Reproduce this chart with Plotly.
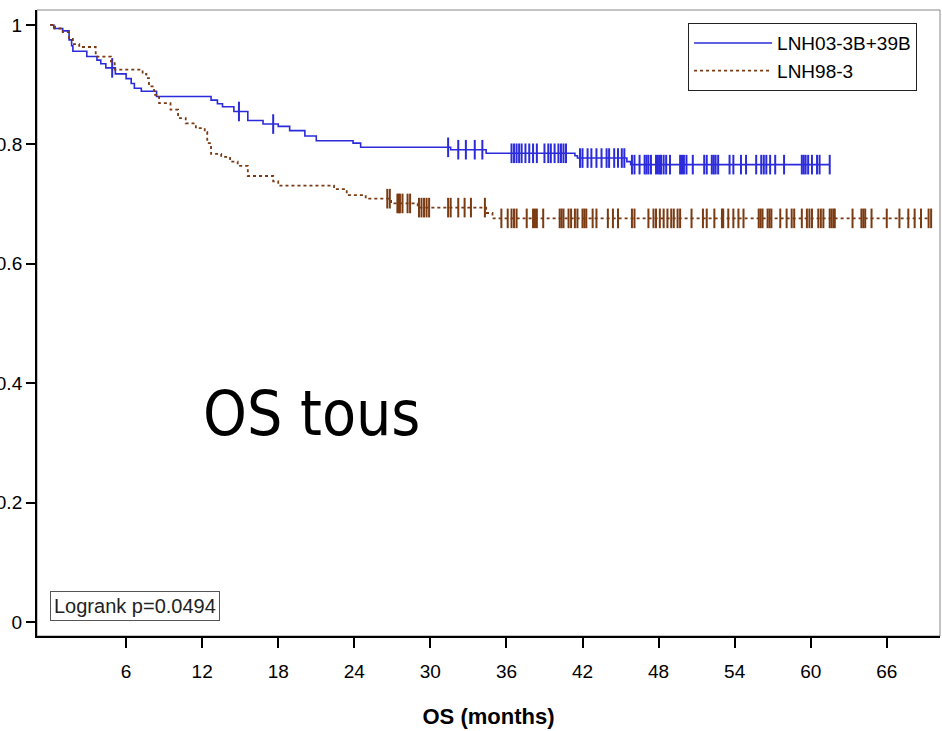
import numpy as np
import plotly.graph_objects as go

# ---------------- data ----------------
blue_name = "LNH03-3B+39B"
brown_name = "LNH98-3"

blue_t = [0, 0.3, 1.0, 1.5, 1.7, 1.8, 2.9, 3.7, 4.0, 4.4, 5.15, 6.0, 6.4, 6.65, 7.2, 8.4,
          12.7, 13.2, 13.6, 14.5, 15.6, 16.8, 18.0, 18.9, 20.1, 21.0, 23.9, 24.5, 31.6,
          34.4, 41.4, 41.6, 45.5, 45.8]
blue_s = [1.0, 0.994, 0.990, 0.975, 0.965, 0.956, 0.947, 0.941, 0.935, 0.928, 0.918, 0.910,
          0.902, 0.894, 0.889, 0.880, 0.874, 0.868, 0.863, 0.855, 0.840, 0.834, 0.830, 0.823,
          0.814, 0.806, 0.802, 0.795, 0.791, 0.785, 0.781, 0.777, 0.771, 0.766]
blue_cens = [4.9, 14.9, 17.6, 31.4, 32.2, 32.8, 33.5, 34.1, 36.4, 36.6, 36.8, 37.0, 37.2,
             37.5, 37.8, 38.1, 38.4, 39.0, 39.3, 39.5, 39.8, 40.1, 40.3, 40.5, 40.7, 41.8,
             42.0, 42.4, 42.7, 43.1, 43.5, 43.9, 44.1, 44.5, 44.8, 45.1, 45.3, 45.9, 46.1,
             46.5, 46.9, 47.05, 47.2, 47.4, 47.8, 47.95, 48.1, 48.2, 48.4, 48.6, 48.9, 49.7,
             49.85, 50.0, 50.2, 50.7, 51.6, 51.8, 52.2, 52.35, 52.5, 52.7, 53.6, 53.9, 54.5,
             54.9, 55.7, 56.1, 56.3, 56.5, 56.8, 57.2, 57.9, 59.3, 59.45, 59.6, 59.8, 60.1,
             60.5, 60.7, 61.5]

brown_t = [0, 0.4, 1.0, 1.5, 1.8, 2.3, 3.6, 4.8, 5.1, 7.3, 7.6, 7.8, 8.2, 8.6, 9.5, 10.1,
           10.7, 11.5, 12.2, 12.4, 12.7, 13.5, 14.2, 14.8, 15.6, 17.6, 18.0, 22.4, 23.4,
           24.9, 26.9, 29.0, 34.4, 34.9]
brown_s = [1.0, 0.994, 0.988, 0.978, 0.968, 0.963, 0.947, 0.939, 0.925, 0.918, 0.911, 0.897,
           0.883, 0.869, 0.858, 0.844, 0.835, 0.827, 0.821, 0.802, 0.784, 0.779, 0.771, 0.764,
           0.747, 0.738, 0.731, 0.725, 0.715, 0.709, 0.701, 0.694, 0.685, 0.676]
brown_cens = [26.6, 26.8, 27.4, 27.5, 27.6, 27.8, 28.2, 28.4, 29.1, 29.3, 29.5, 29.7, 29.9,
              31.4, 31.6, 32.2, 32.7, 33.2, 34.3, 35.6, 36.1, 36.4, 36.6, 36.8, 37.6, 38.1,
              38.25, 38.4, 38.9, 40.2, 40.35, 40.5, 40.9, 41.1, 41.4, 41.6, 42.0, 42.15, 42.3,
              42.8, 43.1, 44.0, 44.4, 44.8, 45.9, 46.1, 47.2, 47.6, 47.8, 48.1, 48.4, 48.7,
              49.0, 49.2, 49.5, 49.7, 50.6, 51.5, 51.8, 52.4, 53.0, 53.1, 53.5, 53.9, 54.3,
              54.7, 55.9, 56.05, 56.2, 56.6, 56.75, 56.9, 57.6, 58.1, 58.5, 58.7, 59.3, 59.7,
              59.9, 60.1, 60.6, 60.8, 61.0, 61.5, 61.65, 61.8, 61.9, 63.3, 64.0, 64.15, 64.3,
              64.8, 66.0, 67.0, 67.7, 68.2, 68.7, 69.3, 69.5]

x_ticks = [6, 12, 18, 24, 30, 36, 42, 48, 54, 60, 66]
y_ticks = [0, 0.2, 0.4, 0.6, 0.8, 1]
y_tick_text = ["0", "0.2", "0.4", "0.6", "0.8", "1"]
x_title = "OS (months)"
overlay_text = "OS tous"
logrank_text = "Logrank p=0.0494"

BLUE = "#2b2bdb"
BROWN = "#7a3a12"
SANS = "Liberation Sans, Arial, sans-serif"


def step_xy(t, s, cens):
    end = max(max(t), max(cens))
    return list(t) + [end], list(s) + [s[-1]]


def cens_y(t, s, cens):
    idx = np.searchsorted(np.array(t), np.array(cens), side="right") - 1
    return [s[i] for i in idx]


fig = go.Figure()

for name, t, s, cens, color, dash, w in [
    (blue_name, blue_t, blue_s, blue_cens, BLUE, "solid", 1.6),
    (brown_name, brown_t, brown_s, brown_cens, BROWN, "3px,3px", 1.8),
]:
    xs, ys = step_xy(t, s, cens)
    fig.add_trace(go.Scatter(x=xs, y=ys, mode="lines", name=name, line_shape="hv",
                             line=dict(color=color, width=w, dash=dash)))
    fig.add_trace(go.Scatter(x=cens, y=cens_y(t, s, cens), mode="markers", showlegend=False,
                             hoverinfo="skip",
                             marker=dict(symbol="line-ns", size=14,
                                         line=dict(color=color, width=2))))

fig.update_layout(
    width=942, height=731,
    margin=dict(l=37, r=2, t=10, b=95),
    paper_bgcolor="white", plot_bgcolor="white",
    font=dict(family=SANS, size=19, color="black"),
    showlegend=True,
    legend=dict(x=0.721, y=0.979, xanchor="left", yanchor="top",
                bgcolor="white", bordercolor="#222", borderwidth=1,
                font=dict(family=SANS, size=19, color="black"),
                itemwidth=78, tracegroupgap=0),
    shapes=[dict(type="rect", xref="paper", yref="paper", x0=0, y0=0, x1=1, y1=1,
                 line=dict(color="#888", width=1), layer="below")],
    annotations=[
        dict(text=overlay_text, xref="x", yref="y", x=20.6, y=0.35, showarrow=False,
             xanchor="center", yanchor="middle",
             font=dict(family="DejaVu Sans Condensed, DejaVu Sans", size=62, color="black")),
        dict(text=logrank_text, xref="paper", yref="paper", x=0.0144, y=0.024,
             xanchor="left", yanchor="bottom", showarrow=False,
             bordercolor="#555", borderwidth=1, borderpad=3, bgcolor="white",
             font=dict(family=SANS, size=20, color="#222")),
    ],
)

fig.update_xaxes(range=[-1.03, 70.2], tickvals=x_ticks, ticks="outside", ticklen=10,
                 tickwidth=1.5, tickcolor="black", showline=True, linecolor="black",
                 linewidth=2, showgrid=False, zeroline=False,
                 tickfont=dict(family=SANS, size=19), ticklabelstandoff=7,
                 title=dict(text=x_title, standoff=28,
                            font=dict(family=SANS, size=22, weight="bold")))
fig.update_yaxes(range=[-0.0235, 1.025], tickvals=y_ticks, ticktext=y_tick_text,
                 ticks="outside", ticklen=9, tickwidth=1.5, tickcolor="black",
                 showline=True, linecolor="black", linewidth=2, showgrid=False,
                 zeroline=False, automargin=False,
                 tickfont=dict(family=SANS, size=19))

fig.write_html("out.html")
